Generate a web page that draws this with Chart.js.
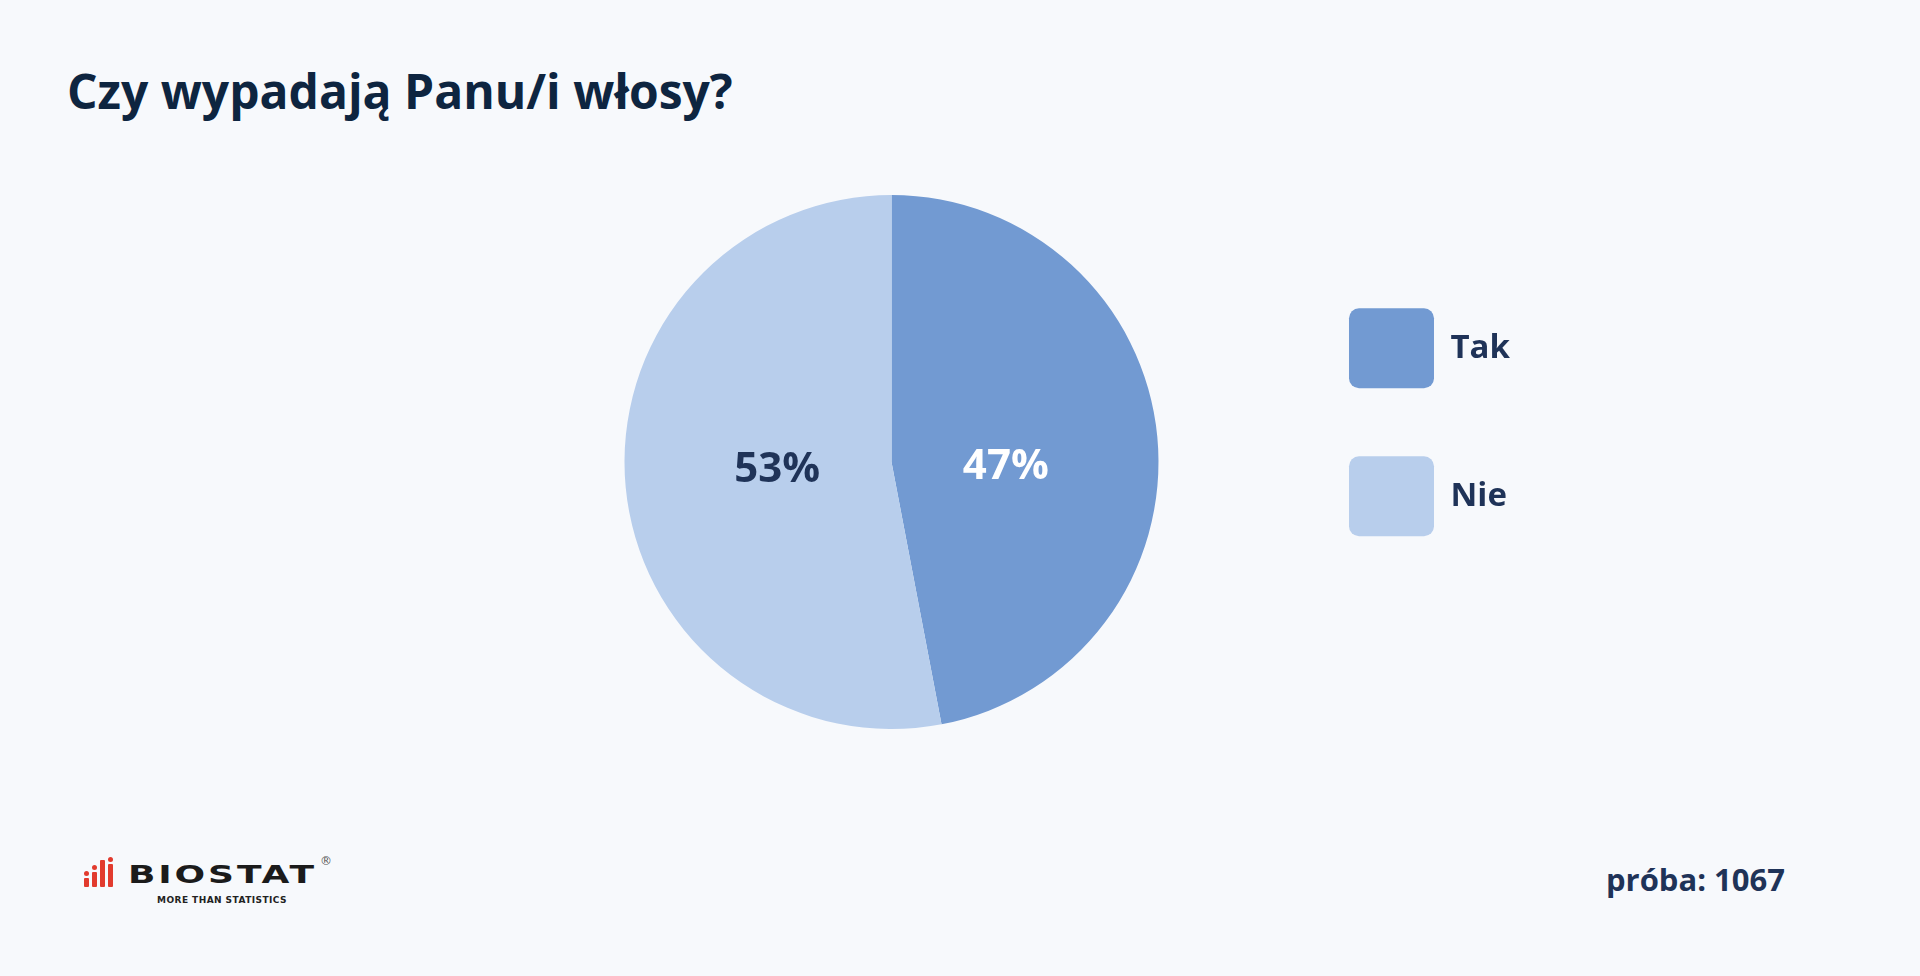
<!DOCTYPE html>
<html lang="pl">
<head>
<meta charset="utf-8">
<title>Czy wypadają Panu/i włosy?</title>
<script src="https://cdn.jsdelivr.net/npm/chart.js@4.4.1/dist/chart.umd.min.js"></script>
<style>
  html, body {
    margin: 0;
    padding: 0;
    width: 1920px;
    height: 976px;
    background: #f7f9fc;
    overflow: hidden;
    font-family: "Open Sans", sans-serif;
  }
  .title {
    position: absolute;
    left: 67px;
    top: 67px;
    font-size: 48px;
    line-height: 1;
    font-weight: 700;
    color: #0e2540;
    white-space: nowrap;
  }
  .pie-wrap {
    position: absolute;
    left: 502px;
    top: 195px;
  }
  .pie-wrap canvas { display: block; }
  .sample {
    position: absolute;
    right: 135px;
    top: 864px;
    font-size: 31px;
    line-height: 1;
    font-weight: 700;
    color: #1f3358;
  }
  .logo {
    position: absolute;
    left: 82px;
    top: 850px;
    width: 260px;
    height: 60px;
  }
  .logo .bar {
    position: absolute;
    bottom: 23px;
    width: 5px;
    background: #e23b2e;
    border-radius: 1px;
  }
  .logo .dot {
    position: absolute;
    width: 5px;
    height: 5px;
    background: #e23b2e;
    border-radius: 50%;
  }
  .logo .name {
    position: absolute;
    left: 46px;
    top: 12px;
    font-family: "DejaVu Sans", sans-serif;
    font-weight: 700;
    font-size: 25px;
    line-height: 1;
    letter-spacing: 2px;
    color: #1b1b1b;
    transform: scaleX(1.44);
    transform-origin: left top;
  }
  .logo .reg {
    position: absolute;
    left: 238px;
    top: 4px;
    font-family: "DejaVu Sans", sans-serif;
    font-size: 12px;
    color: #555;
  }
  .logo .tag {
    position: absolute;
    left: 75px;
    top: 45px;
    font-family: "DejaVu Sans", sans-serif;
    font-weight: 700;
    font-size: 9px;
    letter-spacing: 0.45px;
    color: #222;
    white-space: nowrap;
  }
</style>
</head>
<body>

<div class="title">Czy wypadają Panu/i włosy?</div>

<div class="pie-wrap">
  <canvas id="pie" width="1100" height="534"></canvas>
</div>

<div class="logo">
  <div class="dot" style="left:2px; top:21px;"></div>
  <div class="bar" style="left:2px; height:9px;"></div>
  <div class="dot" style="left:10px; top:15px;"></div>
  <div class="bar" style="left:10px; height:15px;"></div>
  <div class="bar" style="left:18px; height:27px;"></div>
  <div class="dot" style="left:26px; top:7px;"></div>
  <div class="bar" style="left:26px; height:23px;"></div>
  <div class="name">BIOSTAT</div>
  <div class="reg">®</div>
  <div class="tag">MORE THAN STATISTICS</div>
</div>

<div class="sample">próba: 1067</div>

<script>
// answers and their shares (%)
const answers = ['Tak', 'Nie'];
const shares = [47, 53];
const sliceColors = ['#729ad2', '#b8ceec'];
const labelColors = ['#ffffff', '#1f3358'];

const PIE_AREA_W = 778;
const PIE_H = 534;

// percent labels drawn inside each slice, kept horizontal
const sliceLabels = {
    id: 'sliceLabels',
    afterDatasetsDraw(chart) {
        const ctx = chart.ctx;
        const meta = chart.getDatasetMeta(0);
        ctx.save();
        ctx.font = 'bold 42px "Open Sans"';
        ctx.textAlign = 'center';
        ctx.textBaseline = 'middle';
        meta.data.forEach((arc, i) => {
            const p = arc.getProps(['x', 'y', 'startAngle', 'endAngle', 'outerRadius'], true);
            const mid = (p.startAngle + p.endAngle) / 2;
            const r = p.outerRadius * 0.43;
            ctx.fillStyle = labelColors[i];
            ctx.fillText(shares[i] + '%', p.x + Math.cos(mid) * r, p.y + 6.5 + Math.sin(mid) * r * 0.15);
        });
        ctx.restore();
    }
};

const ctx = document.getElementById('pie').getContext('2d');

const chart = new Chart(ctx, {
    type: 'pie',
    data: {
        labels: answers,
        datasets: [{
            data: shares,
            backgroundColor: sliceColors,
            borderWidth: 0,
            hoverOffset: 0
        }]
    },
    options: {
        responsive: false,
        maintainAspectRatio: false,
        animation: false,
        events: [],
        layout: { padding: 0 },
        plugins: {
            tooltip: { enabled: false },
            legend: {
                position: 'right',
                align: 'start',
                title: {
                    display: true,
                    text: ' ',
                    font: { size: 1 },
                    padding: { top: 44, bottom: 0 }
                },
                labels: {
                    boxWidth: 85,
                    boxHeight: 80,
                    padding: 68,
                    useBorderRadius: true,
                    borderRadius: 10,
                    color: '#1f3358',
                    font: { family: 'Open Sans', size: 33, weight: 'bold' }
                }
            }
        }
    },
    plugins: [sliceLabels]
});

// make the canvas just wide enough for the pie area plus the legend
chart.resize(PIE_AREA_W + Math.ceil(chart.legend.width), PIE_H);
</script>
</body>
</html>
